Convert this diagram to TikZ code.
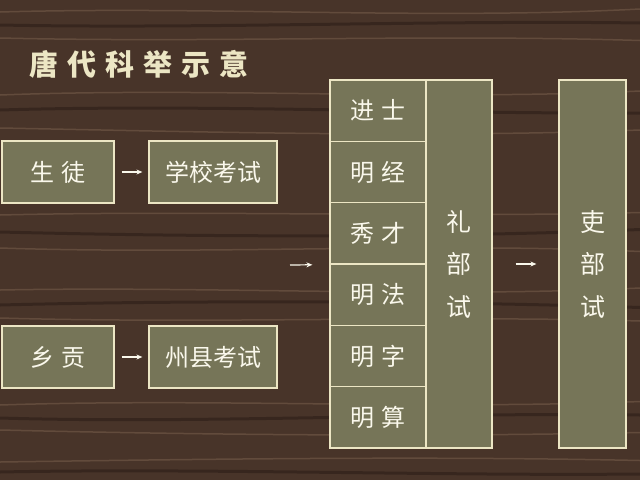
\documentclass[tikz,border=0pt]{standalone}
\usepackage{fontspec}
\newfontfamily\cjk{Noto Sans CJK SC}
\usetikzlibrary{positioning, arrows.meta}
\definecolor{wood}{RGB}{72,52,41}
\definecolor{woodlight}{RGB}{130,104,84}
\definecolor{wooddark}{RGB}{45,30,24}
\definecolor{boxc}{RGB}{118,117,88}
\definecolor{edgec}{RGB}{236,230,196}
\definecolor{txtc}{RGB}{250,248,236}
\tikzstyle{cell}=[draw=edgec, line width=1.2pt, fill=boxc, inner sep=0pt, text=txtc, font=\cjk\fontsize{24}{28}\selectfont]
\tikzstyle{flow}=[-{Stealth[length=6pt,width=5pt]}, draw=txtc, line width=1.2pt]

\begin{document}
\begin{tikzpicture}[x=1pt, y=-1pt]
	\fill[wood] (0,0) rectangle (640,480);
	\useasboundingbox (0,0) rectangle (640,480);
	% wood grain
	\foreach \y/\a/\b in {12/-6/8, 38/5/-4, 95/-8/6, 128/4/10, 215/-5/3, 248/7/-6, 290/-4/8, 318/6/-3, 405/-7/5, 430/5/7, 462/-3/-6}
		\draw[woodlight, opacity=0.45, line width=1.5pt] (0,\y) .. controls (210,\y+\a) and (430,\y+\b) .. (640,\y+\a/2);
	\foreach \y/\a/\b in {25/4/-5, 110/-6/4, 232/5/6, 305/-5/-4, 418/6/-6, 472/-4/4}
		\draw[wooddark, opacity=0.6, line width=3pt] (0,\y) .. controls (200,\y+\a) and (440,\y+\b) .. (640,\y-\a/2);

	% title
	\node[text=edgec, font=\cjk\bfseries\fontsize{29}{32}\selectfont] (title) at (139,64)
		{唐\hspace{9pt}代\hspace{9pt}科\hspace{9pt}举\hspace{9pt}示\hspace{9pt}意};

	% entry routes
	\node[cell, minimum width=112pt, minimum height=62pt] (shengtu) at (58,172) {生\hspace{7pt}徒};
	\node[cell, minimum width=128pt, minimum height=62pt] (xuexiao) at (213,172) {学校考试};
	\node[cell, minimum width=112pt, minimum height=62pt] (xianggong) at (58,357) {乡\hspace{7pt}贡};
	\node[cell, minimum width=128pt, minimum height=62pt] (zhouxian) at (213,357) {州县考试};

	% subjects of the ministry exam
	\foreach \name/\a/\b [count=\i from 0] in {jinshi/进/士, mingjing/明/经, xiucai/秀/才, mingfa/明/法, mingzi/明/字, mingsuan/明/算}
		\node[cell, minimum width=96pt, minimum height=61.33pt] (\name) at (378,{110.67+61.33*\i}) {\a\hspace{7pt}\b};
	\node[cell, minimum width=66pt, minimum height=368pt, align=center, font=\cjk\fontsize{25}{42.5}\selectfont] (libu) at (459,264) {礼\\部\\试};
	\node[cell, minimum width=67pt, minimum height=368pt, align=center, font=\cjk\fontsize{25}{42.5}\selectfont] (libu2) at (592.5,264) {吏\\部\\试};

	\coordinate (join) at (290,265);
	\draw[flow, shorten <=7pt, shorten >=6pt] (shengtu) -- (xuexiao);
	\draw[flow, shorten <=7pt, shorten >=6pt] (xianggong) -- (zhouxian);
	\draw[flow, shorten >=17pt] (join) -- (xiucai.south west);
	\draw[flow, shorten <=23pt, shorten >=22pt] (libu) -- (libu2);
\end{tikzpicture}
\end{document}
